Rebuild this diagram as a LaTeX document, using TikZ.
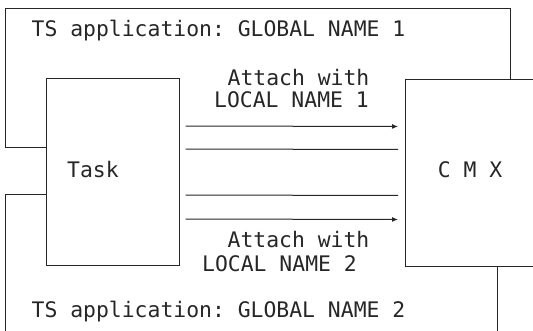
\documentclass[tikz,border=0pt]{standalone}
\usepackage{fontspec}
\setmonofont{DejaVu Sans Mono}
\usetikzlibrary{arrows.meta}
\begin{document}
\begin{tikzpicture}[x=1pt,y=-1pt,
  frame/.style={draw=black!85, line width=1pt},
  lbl/.style={font=\ttfamily\fontsize{21.4}{22}\selectfont, text=black!85, inner sep=0pt, anchor=base},
  box/.style={frame, rectangle, inner sep=0pt},
  link/.style={frame, shorten <=6pt, shorten >=7pt},
  tip/.style={-{Latex[length=6pt,width=5pt]}}
]
\useasboundingbox (0,0) rectangle (533,331);
\clip (0,0) rectangle (533,331);

% the two boxes
\node[box, minimum width=133pt, minimum height=187pt] (task) at (112.5,172.5) {};
\node[box, minimum width=160pt, minimum height=187pt, anchor=north west] (cmx) at (405,79) {};

% outlines of the two TS applications
\draw[frame] ([yshift=24.5pt]task.west) -- ++(-40,0) |- (510,9) -- ++(0,70);
\draw[frame] ([yshift=-22.5pt]task.west) -- ++(-40,0) -- ++(0,150);
\draw[frame] (cmx.south west) ++(92,0) -- ++(0,80);

% connections between task and CMX
\draw[link,tip] ([yshift=46.5pt]task.east) -- ([yshift=46.5pt]cmx.west);
\draw[link] ([yshift=23.5pt]task.east) -- ([yshift=23.5pt]cmx.west);
\draw[link] ([yshift=-22.5pt]task.east) -- ([yshift=-22.5pt]cmx.west);
\draw[link,tip] ([yshift=-46.5pt]task.east) -- ([yshift=-46.5pt]cmx.west);

% labels
\node[lbl] (g1) at (218.5,37) {TS application: GLOBAL NAME 1};
\node[lbl] (a1) at (298.5,86) {Attach with};
\node[lbl] (l1) at (291.5,108) {LOCAL NAME 1};
\node[lbl] (tl) at (93,178) {Task};
\node[lbl] (cl) at (470,178) {C M X};
\node[lbl] (a2) at (298.5,248) {Attach with};
\node[lbl] (l2) at (279.5,272) {LOCAL NAME 2};
\node[lbl] (g2) at (218.5,317) {TS application: GLOBAL NAME 2};
\end{tikzpicture}
\end{document}
